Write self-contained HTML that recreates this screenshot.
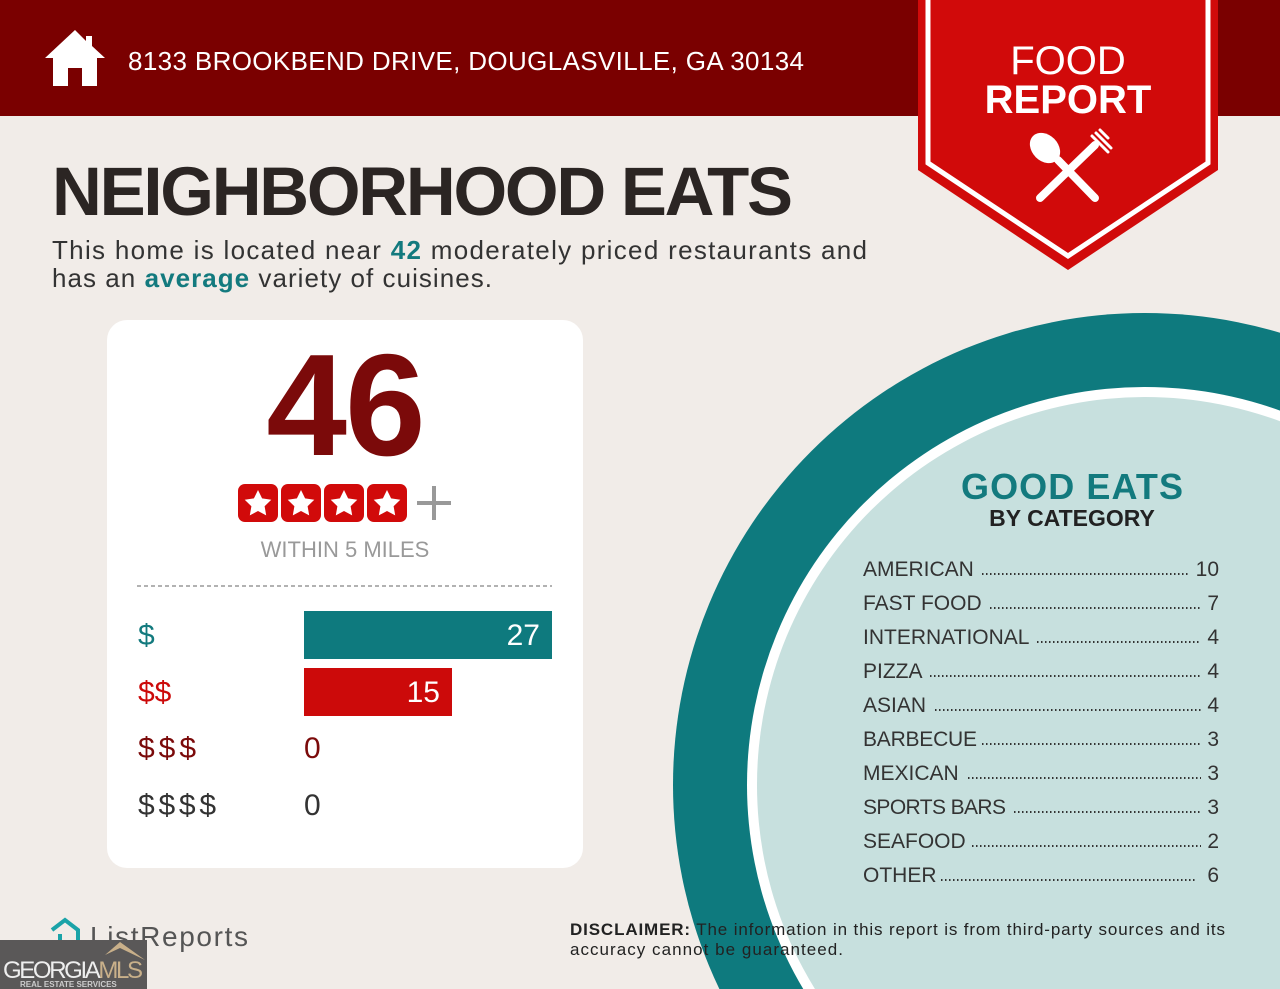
<!DOCTYPE html>
<html><head><meta charset="utf-8"><style>html,body{margin:0;overflow:hidden;width:1280px;height:989px}svg{display:block}</style></head><body>
<svg width="1280" height="989" viewBox="0 0 1280 989" xmlns="http://www.w3.org/2000/svg" font-family="Liberation Sans, sans-serif">
<rect width="1280" height="989" fill="#f1ece8"/>
<rect width="1280" height="116" fill="#7a0000"/>
<path d="M75 30 L45 58 L53 58 L53 86 L68 86 L68 68 L82 68 L82 86 L97 86 L97 58 L105 58 L92 46 L92 36 L86 36 L86 41 Z" fill="#fff"/>
<text x="128" y="70" font-size="26" fill="#fff" textLength="676">8133 BROOKBEND DRIVE, DOUGLASVILLE, GA 30134</text>
<path d="M918 0 H1218 V170 L1068 270 L918 170 Z" fill="#d10a0a"/>
<path d="M928 0 V163 L1068 256 L1208 163 V0" fill="none" stroke="#fff" stroke-width="5"/>
<text x="1068" y="74" font-size="40" fill="#fff" text-anchor="middle">FOOD</text>
<text x="1068" y="113" font-size="40" fill="#fff" font-weight="bold" text-anchor="middle">REPORT</text>
<g stroke="#fff" stroke-linecap="round" fill="#fff">
<line x1="1040" y1="198" x2="1095" y2="145" stroke-width="8"/>
<line x1="1095" y1="198" x2="1058" y2="160" stroke-width="8"/>
<ellipse cx="1045" cy="148" rx="13" ry="17" transform="rotate(-45 1045 148)" stroke="none"/>
<path d="M1092 136 l16 16 M1096 133 l15 15 M1100 130 l8 8" stroke-width="3"/>
</g>
<text x="52" y="215" font-size="69" font-weight="bold" fill="#2b2523" textLength="741">NEIGHBORHOOD EATS</text>
<text x="52" y="259" font-size="26" fill="#333" textLength="815">This home is located near <tspan fill="#137a7e" font-weight="bold">42</tspan> moderately priced restaurants and</text>
<text x="52" y="287" font-size="26" fill="#333" textLength="440">has an <tspan fill="#137a7e" font-weight="bold">average</tspan> variety of cuisines.</text>
<circle cx="1145" cy="785" r="472" fill="#0e7a7e"/>
<circle cx="1145" cy="785" r="398" fill="#fff"/>
<circle cx="1145" cy="785" r="388" fill="#c7e0de"/>
<text x="1072" y="499" font-size="36" font-weight="bold" fill="#137a7e" text-anchor="middle" textLength="222">GOOD EATS</text>
<text x="1072" y="526" font-size="23" font-weight="bold" fill="#222" text-anchor="middle">BY CATEGORY</text>
<g font-size="21" fill="#333">
<text x="863" y="576">AMERICAN</text><text x="1219" y="576" text-anchor="end">10</text>
<text x="863" y="610">FAST FOOD</text><text x="1219" y="610" text-anchor="end">7</text>
<text x="863" y="644">INTERNATIONAL</text><text x="1219" y="644" text-anchor="end">4</text>
<text x="863" y="678">PIZZA</text><text x="1219" y="678" text-anchor="end">4</text>
<text x="863" y="712">ASIAN</text><text x="1219" y="712" text-anchor="end">4</text>
<text x="863" y="746" textLength="114">BARBECUE</text><text x="1219" y="746" text-anchor="end">3</text>
<text x="863" y="780">MEXICAN</text><text x="1219" y="780" text-anchor="end">3</text>
<text x="863" y="814" textLength="143">SPORTS BARS</text><text x="1219" y="814" text-anchor="end">3</text>
<text x="863" y="848">SEAFOOD</text><text x="1219" y="848" text-anchor="end">2</text>
<text x="863" y="882">OTHER</text><text x="1219" y="882" text-anchor="end">6</text>
</g>
<g stroke="#333" stroke-width="2" stroke-dasharray="1.5 2.5">
<line x1="982" y1="574" x2="1190" y2="574"/>
<line x1="990" y1="608" x2="1201" y2="608"/>
<line x1="1037" y1="642" x2="1201" y2="642"/>
<line x1="930" y1="676" x2="1201" y2="676"/>
<line x1="935" y1="710" x2="1201" y2="710"/>
<line x1="982" y1="744" x2="1201" y2="744"/>
<line x1="968" y1="778" x2="1201" y2="778"/>
<line x1="1014" y1="812" x2="1201" y2="812"/>
<line x1="972" y1="846" x2="1201" y2="846"/>
<line x1="941" y1="880" x2="1197" y2="880"/>
</g>
<rect x="107" y="320" width="476" height="548" rx="20" fill="#fff"/>
<text x="345" y="455" font-size="145" font-weight="bold" fill="#7b0a0a" text-anchor="middle" letter-spacing="-2">46</text>
<g fill="#d10a0a">
<rect x="238" y="484" width="40" height="38" rx="7"/><rect x="281" y="484" width="40" height="38" rx="7"/>
<rect x="324" y="484" width="40" height="38" rx="7"/><rect x="367" y="484" width="40" height="38" rx="7"/>
</g>
<g fill="#fff">
<path id="st" d="M258 490 l4.1 8.4 9.2 1.3 -6.7 6.5 1.6 9.2 -8.2 -4.4 -8.2 4.4 1.6 -9.2 -6.7 -6.5 9.2 -1.3z"/>
<use href="#st" x="43"/><use href="#st" x="86"/><use href="#st" x="129"/>
</g>
<path d="M434 486 V520 M417 503 H451" stroke="#999" stroke-width="4"/>
<text x="345" y="557" font-size="22" fill="#999" text-anchor="middle">WITHIN 5 MILES</text>
<line x1="137" y1="586" x2="552" y2="586" stroke="#999" stroke-width="1.5" stroke-dasharray="4 3"/>
<rect x="304" y="611" width="248" height="48" fill="#0e7a7e"/>
<rect x="304" y="668" width="148" height="48" fill="#cc0a0a"/>
<g font-size="30">
<text x="138" y="645" fill="#137a7e">$</text>
<text x="540" y="645" fill="#fff" text-anchor="end">27</text>
<text x="138" y="702" fill="#cc0a0a">$$</text>
<text x="440" y="702" fill="#fff" text-anchor="end">15</text>
<text x="138" y="758" fill="#7b0a0a" textLength="58">$$$</text>
<text x="304" y="758" fill="#7b0a0a">0</text>
<text x="138" y="815" fill="#333" textLength="78">$$$$</text>
<text x="304" y="815" fill="#333">0</text>
</g>
<path d="M52 930 L65 920 L78 930 V944 H60 V934" fill="none" stroke="#1aa3a8" stroke-width="4"/>
<text x="90" y="946" font-size="28" fill="#555" textLength="158">ListReports</text>
<text x="570" y="935" font-size="17" fill="#222" textLength="655"><tspan font-weight="bold">DISCLAIMER:</tspan> The information in this report is from third-party sources and its</text>
<text x="570" y="955" font-size="17" fill="#222" textLength="273">accuracy cannot be guaranteed.</text>
<rect x="0" y="940" width="147" height="49" fill="#5a5858"/>
<path d="M105 955 L120 942 L145 960 L120 948 Z" fill="#c9b08a"/>
<text x="3" y="978" font-size="24" fill="#eee" textLength="140">GEORGIA<tspan fill="#c9b08a">MLS</tspan></text>
<text x="20" y="987" font-size="8" fill="#ccc" font-weight="bold">REAL ESTATE SERVICES</text>
</svg>
</body></html>
